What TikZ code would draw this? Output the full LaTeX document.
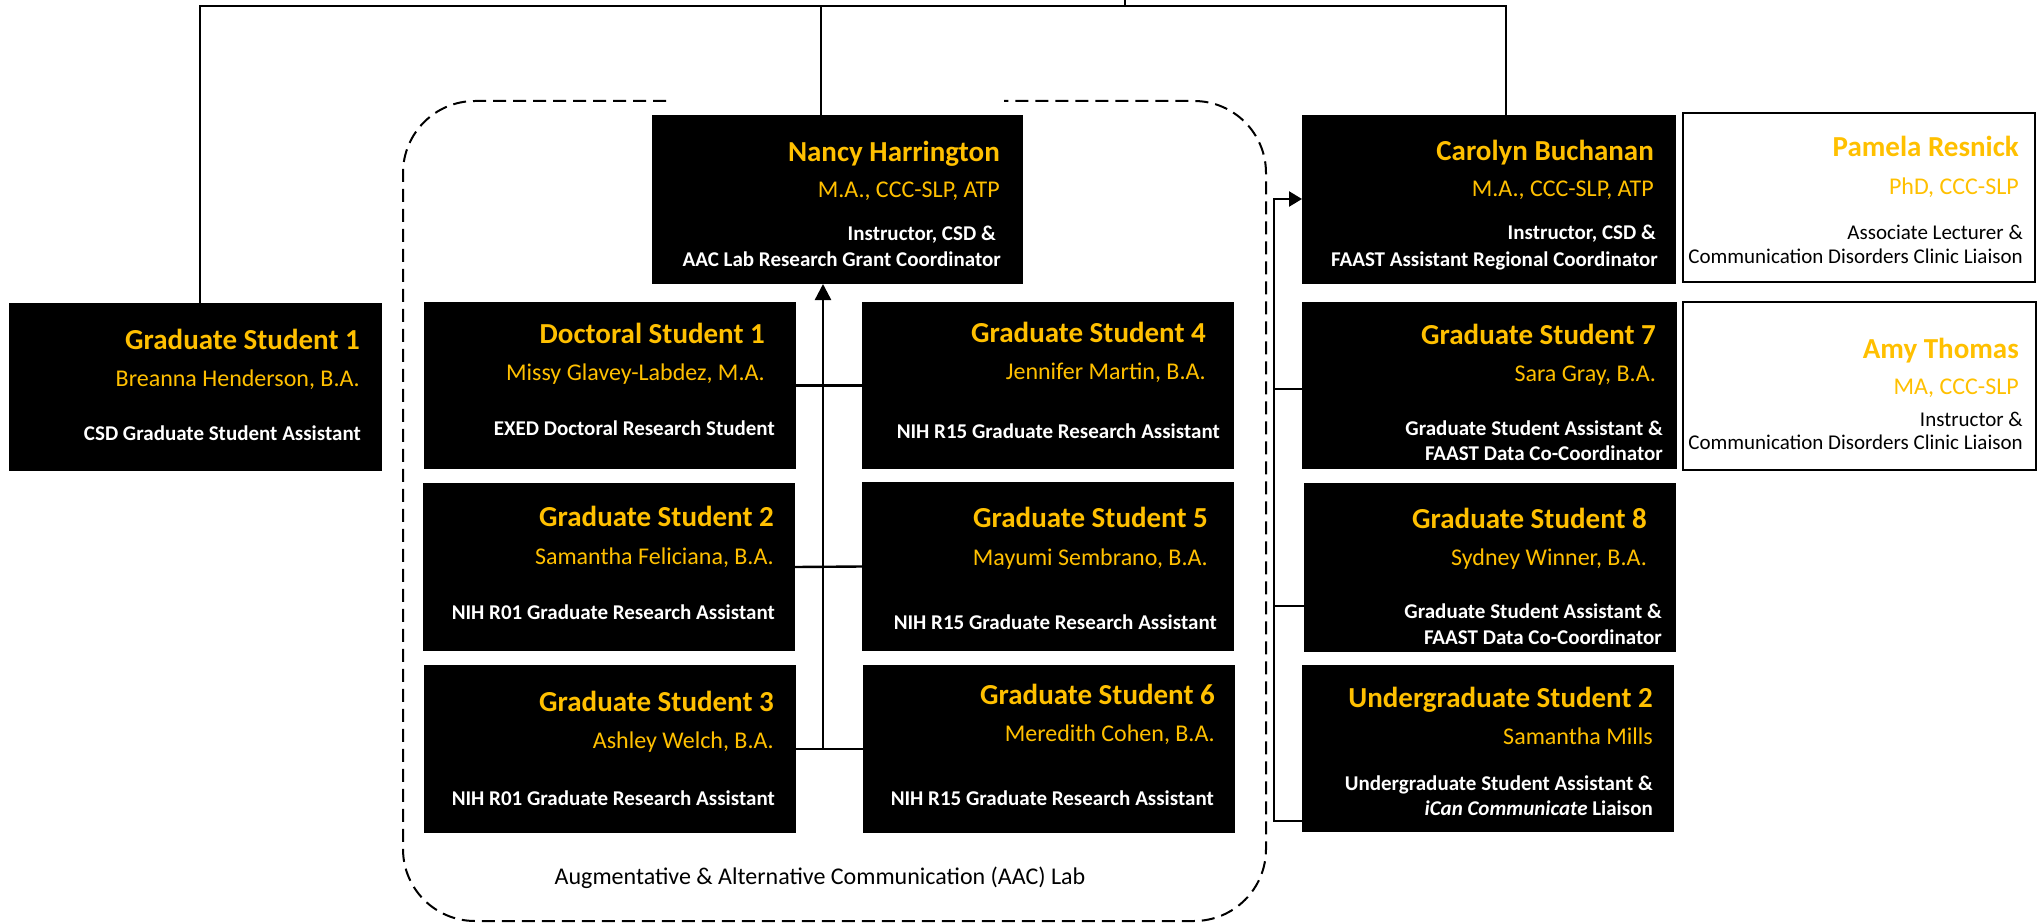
\documentclass[tikz,border=0pt]{standalone}
\usepackage{fontspec}
\setmainfont{Carlito}
\usetikzlibrary{arrows.meta}
\definecolor{gold}{RGB}{255,192,0}
\begin{document}
\begin{tikzpicture}[x=1pt,y=-1pt,
  bbox/.style={fill=black, inner sep=0pt, outer sep=0pt, anchor=north west},
  wbox/.style={fill=white, draw=black, line width=1.5pt, inner sep=0pt, outer sep=0pt, anchor=north west},
  ttl/.style={font=\fontsize{29pt}{34pt}\selectfont\bfseries, text=gold, anchor=base east, inner sep=0pt},
  nm/.style={font=\fontsize{24pt}{29pt}\selectfont, text=gold, anchor=base east, inner sep=0pt},
  ds/.style={font=\fontsize{21pt}{25pt}\selectfont\bfseries, text=white, anchor=base east, inner sep=0pt},
  dk/.style={font=\fontsize{21pt}{25pt}\selectfont, text=black, anchor=base east, inner sep=0pt},
  conn/.style={line width=2.4pt, draw=black},
  tipup/.style={-{Triangle[width=16pt,length=16pt]}},
  tipright/.style={-{Triangle[width=15pt,length=13pt]}},
  labframe/.style={line width=2pt, dash pattern=on 13pt off 7pt, rounded corners=72pt},
  labtext/.style={font=\fontsize{24pt}{29pt}\selectfont, anchor=base, inner sep=0pt}
]
\useasboundingbox (0,0) rectangle (2044,923);

% dashed lab frame
\draw[labframe] (666,101) -- (403,101) -- (403,921) -- (1266,921) -- (1266,101) -- (1004,101);
\node[labtext] (labname) at (820,884) {Augmentative \& Alternative Communication (AAC) Lab};

% boxes
\node[bbox, minimum width=373pt, minimum height=168pt] (grad1) at (9,303) {};
\node[bbox, minimum width=371pt, minimum height=169pt] (nancy) at (652,115) {};
\node[bbox, minimum width=372pt, minimum height=167pt] (doc1) at (424,302) {};
\node[bbox, minimum width=372pt, minimum height=167pt] (grad4) at (862,302) {};
\node[bbox, minimum width=372pt, minimum height=168pt] (grad2) at (423,483) {};
\node[bbox, minimum width=372pt, minimum height=169pt] (grad5) at (862,482) {};
\node[bbox, minimum width=372pt, minimum height=168pt] (grad3) at (424,665) {};
\node[bbox, minimum width=372pt, minimum height=168pt] (grad6) at (863,665) {};
\node[bbox, minimum width=374pt, minimum height=169pt] (carolyn) at (1302,115) {};
\node[wbox, minimum width=352pt, minimum height=169pt] (pamela) at (1683,113) {};
\node[bbox, minimum width=375pt, minimum height=167pt] (grad7) at (1302,302) {};
\node[wbox, minimum width=353pt, minimum height=168pt] (amy) at (1683,302) {};
\node[bbox, minimum width=372pt, minimum height=169pt] (grad8) at (1304,483) {};
\node[bbox, minimum width=372pt, minimum height=167pt] (ug2) at (1302,665) {};

% connectors
\coordinate (j1) at (200,6);
\coordinate (j2) at (821,6);
\coordinate (j3) at (1506,6);
\coordinate (src) at (1125,0);
\draw[conn] (grad1.north -| j1) -- (j1) -- (j3) -- (carolyn.north -| j3);
\draw[conn] (j2) -- (nancy.north -| j2);
\draw[conn] (src) -- (src |- j1);

\coordinate (av) at (823,0);
\draw[conn] (doc1.east) -- (grad4.west);
\draw[conn] (grad2.east) -- (grad5.west);
\draw[conn] (grad3.east) -- (grad6.west);
\draw[conn, tipup] (grad3.east -| av) -- (nancy.south -| av);

\coordinate (r0) at (1274,199);
\coordinate (r1) at (1274,389);
\coordinate (r2) at (1274,606);
\coordinate (r3) at (1274,821);
\draw[conn, tipright] (ug2.west |- r3) -- (r3) -- (r0) -- (carolyn.west |- r0);
\draw[conn] (r1) -- (grad7.west |- r1);
\draw[conn] (r2) -- (grad8.west |- r2);

% texts
\node[ttl] (grad1t) at (360,349) {Graduate Student 1};
\node[nm]  (grad1n) at (360,386) {Breanna Henderson, B.A.};
\node[ds]  (grad1d) at (361,440) {CSD Graduate Student Assistant};

\node[ttl] (nancyt) at (1000,161) {Nancy Harrington};
\node[nm]  (nancyn) at (1000,197) {M.A., CCC-SLP, ATP};
\node[ds]  (nancyd) at (996,240) {Instructor, CSD \&};
\node[ds]  (nancye) at (1001,266) {AAC Lab Research Grant Coordinator};

\node[ttl] (doc1t) at (765,343) {Doctoral Student 1};
\node[nm]  (doc1n) at (765,380) {Missy Glavey-Labdez, M.A.};
\node[ds]  (doc1d) at (775,435) {EXED Doctoral Research Student};

\node[ttl] (grad4t) at (1206,342) {Graduate Student 4};
\node[nm]  (grad4n) at (1206,379) {Jennifer Martin, B.A.};
\node[ds]  (grad4d) at (1220,438) {NIH R15 Graduate Research Assistant};

\node[ttl] (grad2t) at (774,526) {Graduate Student 2};
\node[nm]  (grad2n) at (774,564) {Samantha Feliciana, B.A.};
\node[ds]  (grad2d) at (775,619) {NIH R01 Graduate Research Assistant};

\node[ttl] (grad5t) at (1208,527) {Graduate Student 5};
\node[nm]  (grad5n) at (1208,565) {Mayumi Sembrano, B.A.};
\node[ds]  (grad5d) at (1217,629) {NIH R15 Graduate Research Assistant};

\node[ttl] (grad3t) at (774,711) {Graduate Student 3};
\node[nm]  (grad3n) at (774,748) {Ashley Welch, B.A.};
\node[ds]  (grad3d) at (775,805) {NIH R01 Graduate Research Assistant};

\node[ttl] (grad6t) at (1215,704) {Graduate Student 6};
\node[nm]  (grad6n) at (1215,741) {Meredith Cohen, B.A.};
\node[ds]  (grad6d) at (1214,805) {NIH R15 Graduate Research Assistant};

\node[ttl] (carolynt) at (1654,160) {Carolyn Buchanan};
\node[nm]  (carolynn) at (1654,196) {M.A., CCC-SLP, ATP};
\node[ds]  (carolynd) at (1656,239) {Instructor, CSD \&};
\node[ds]  (carolyne) at (1658,266) {FAAST Assistant Regional Coordinator};

\node[ttl] (pamelat) at (2019,156) {Pamela Resnick};
\node[nm]  (pamelan) at (2019,194) {PhD, CCC-SLP};
\node[dk]  (pamelad) at (2023,239) {Associate Lecturer \&};
\node[dk]  (pamelae) at (2023,263) {Communication Disorders Clinic Liaison};

\node[ttl] (grad7t) at (1656,344) {Graduate Student 7};
\node[nm]  (grad7n) at (1656,381) {Sara Gray, B.A.};
\node[ds]  (grad7d) at (1663,435) {Graduate Student Assistant \&};
\node[ds]  (grad7e) at (1663,460) {FAAST Data Co-Coordinator};

\node[ttl] (amyt) at (2019,358) {Amy Thomas};
\node[nm]  (amyn) at (2019,394) {MA, CCC-SLP};
\node[dk]  (amyd) at (2023,426) {Instructor \&};
\node[dk]  (amye) at (2023,449) {Communication Disorders Clinic Liaison};

\node[ttl] (grad8t) at (1647,528) {Graduate Student 8};
\node[nm]  (grad8n) at (1647,565) {Sydney Winner, B.A.};
\node[ds]  (grad8d) at (1662,618) {Graduate Student Assistant \&};
\node[ds]  (grad8e) at (1662,644) {FAAST Data Co-Coordinator};

\node[ttl] (ug2t) at (1653,707) {Undergraduate Student 2};
\node[nm]  (ug2n) at (1653,744) {Samantha Mills};
\node[ds]  (ug2d) at (1653,790) {Undergraduate Student Assistant \&};
\node[ds]  (ug2e) at (1653,815) {\textit{iCan Communicate} Liaison};
\end{tikzpicture}
\end{document}
